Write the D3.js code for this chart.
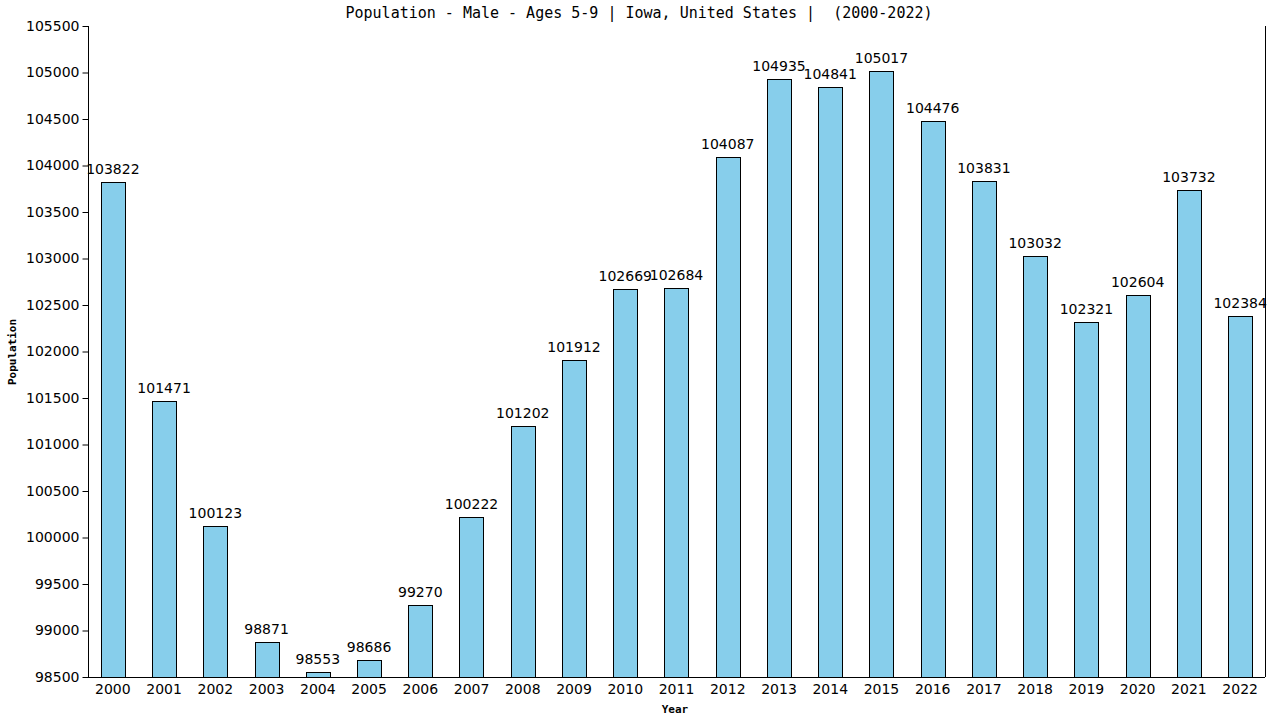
<!DOCTYPE html>
<html>
<head>
<meta charset="utf-8">
<script src="https://cdn.jsdelivr.net/npm/d3@7"></script>
<style>
  body { margin: 0; background: #fff; }
  svg { display: block; }
</style>
</head>
<body>
<svg id="chart"></svg>
<script>
// data
const years = ['2000','2001','2002','2003','2004','2005','2006','2007','2008','2009','2010','2011',
               '2012','2013','2014','2015','2016','2017','2018','2019','2020','2021','2022'];
const population = [103822,101471,100123,98871,98553,98686,99270,100222,101202,101912,102669,102684,
                    104087,104935,104841,105017,104476,103831,103032,102321,102604,103732,102384];
const yTicks = d3.range(98500, 105501, 500);
const titleText = 'Population - Male - Ages 5-9 | Iowa, United States |  (2000-2022)';

const svgWidth = 1280, svgHeight = 720;
const plotLeft = 88, plotRight = 1265, plotTop = 26, plotBottom = 677;

const svg = d3.select('#chart').attr('width', svgWidth).attr('height', svgHeight);

const x = d3.scaleBand().domain(years).range([plotLeft, plotRight]).paddingInner(0.53).paddingOuter(0.25);
const y = d3.scaleLinear().domain([98500, 105500]).range([plotBottom, plotTop]);

// bars
svg.append('g').selectAll('rect')
    .data(years)
    .enter()
    .append('rect')
    .attr('x', d => Math.round(x(d)) + 0.5)
    .attr('y', (d, i) => Math.round(y(population[i])) + 0.5)
    .attr('width', Math.round(x.bandwidth()))
    .attr('height', (d, i) => plotBottom - Math.round(y(population[i])))
    .attr('fill', '#87CEEB')
    .attr('stroke', '#000')
    .attr('stroke-width', 1);

// value labels
svg.append('g').selectAll('text')
    .data(years)
    .enter()
    .append('text')
    .attr('x', d => x(d) + x.bandwidth() / 2)
    .attr('y', (d, i) => y(population[i]) - 8)
    .attr('text-anchor', 'middle')
    .style('font-family', 'DejaVu Sans')
    .style('font-size', '14px')
    .text((d, i) => population[i]);

// y axis
const yAxis = d3.axisLeft(y).tickValues(yTicks).tickSize(6).tickPadding(3).tickFormat(d3.format('d'));
const gy = svg.append('g').attr('transform', `translate(${plotLeft + 0.5},0)`).call(yAxis);
gy.select('.domain').attr('d', `M0,${plotTop}V${plotBottom}`);
gy.selectAll('text').style('font-family', 'DejaVu Sans').style('font-size', '14px').attr('fill', '#000');

// x axis
const xAxis = d3.axisBottom(x).tickSize(0).tickPadding(7);
const gx = svg.append('g').attr('transform', `translate(0,${plotBottom + 0.5})`).call(xAxis);
gx.select('.domain').attr('d', `M${plotLeft},0H${plotRight}`);
gx.selectAll('text').style('font-family', 'DejaVu Sans').style('font-size', '14px').attr('fill', '#000');

// right border
svg.append('line')
    .attr('x1', plotRight + 0.5).attr('x2', plotRight + 0.5)
    .attr('y1', plotTop).attr('y2', plotBottom)
    .attr('stroke', '#000');

// title
svg.append('text')
    .attr('x', 639)
    .attr('y', 18)
    .attr('text-anchor', 'middle')
    .style('font-family', 'DejaVu Sans Mono')
    .style('font-size', '15px')
    .style('white-space', 'pre')
    .text(titleText);

// axis titles
svg.append('text')
    .attr('x', 675)
    .attr('y', 713)
    .attr('text-anchor', 'middle')
    .style('font-family', 'DejaVu Sans Mono')
    .style('font-size', '11px')
    .style('font-weight', 'bold')
    .text('Year');

svg.append('text')
    .attr('transform', 'translate(16,352) rotate(-90)')
    .attr('text-anchor', 'middle')
    .style('font-family', 'DejaVu Sans Mono')
    .style('font-size', '11px')
    .style('font-weight', 'bold')
    .text('Population');
</script>
</body>
</html>
